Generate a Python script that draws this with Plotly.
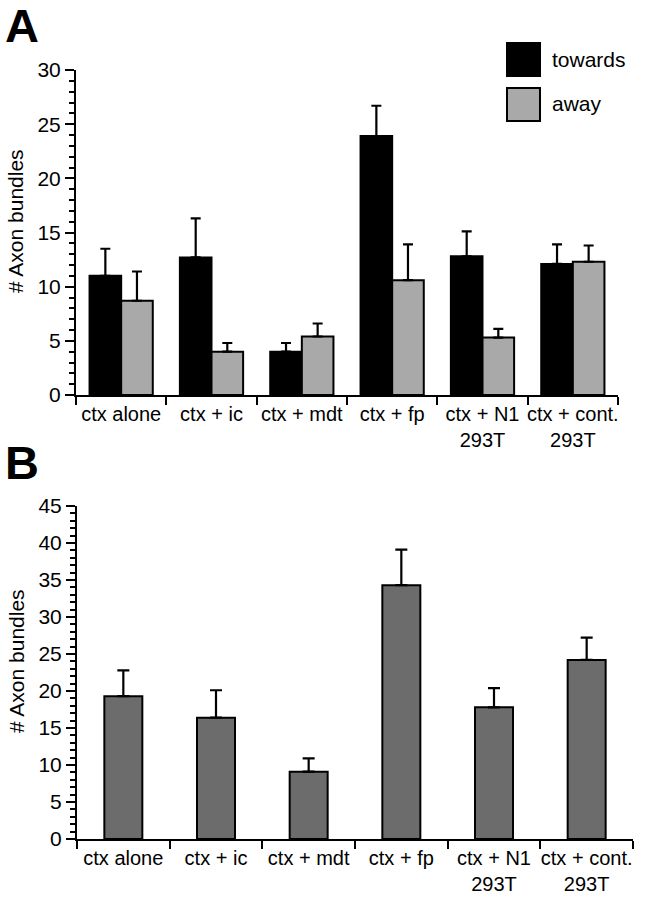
import plotly.graph_objects as go

categories = ["ctx alone", "ctx + ic", "ctx + mdt", "ctx + fp", "ctx + N1<br>293T", "ctx + cont.<br>293T"]

# Panel A
towards = [11.0, 12.7, 4.0, 23.9, 12.8, 12.1]
towards_err = [2.5, 3.6, 0.8, 2.8, 2.3, 1.8]
away = [8.7, 4.0, 5.4, 10.6, 5.3, 12.3]
away_err = [2.7, 0.8, 1.2, 3.3, 0.8, 1.5]

# Panel B
bundles = [19.3, 16.4, 9.1, 34.3, 17.8, 24.2]
bundles_err = [3.5, 3.7, 1.8, 4.8, 2.6, 3.0]

W, H = 645, 900
FONT = "Liberation Sans, Arial, Helvetica, sans-serif"
FS = 20

def px_x(p):
    return p / W

def px_y(p):
    return 1 - p / H

fig = go.Figure()

zeros = [0] * len(categories)

def err(arr, w=5):
    return dict(type="data", symmetric=False, array=arr, arrayminus=zeros,
                color="black", thickness=2.2, width=w)

fig.add_trace(go.Bar(x=categories, y=towards, name="towards", xaxis="x", yaxis="y",
                     marker=dict(color="black", line=dict(color="black", width=2)),
                     error_y=err(towards_err), showlegend=False))
fig.add_trace(go.Bar(x=categories, y=away, name="away", xaxis="x", yaxis="y",
                     marker=dict(color="#a9a9a9", line=dict(color="black", width=2)),
                     error_y=err(away_err), showlegend=False))
fig.add_trace(go.Bar(x=categories, y=bundles, name="bundles", xaxis="x2", yaxis="y2",
                     marker=dict(color="#6c6c6c", line=dict(color="black", width=2)),
                     error_y=err(bundles_err, 6), showlegend=False, width=0.41))

common_x = dict(type="category", tickson="boundaries", ticks="outside", ticklen=8,
                tickwidth=2, tickcolor="black", showline=True, linewidth=2, linecolor="black",
                showgrid=False, zeroline=False, range=[-0.5, 5.5], tickangle=0, automargin=False,
                tickfont=dict(family=FONT, size=FS, color="black"))
common_y = dict(ticks="outside", ticklen=9, tickwidth=2, tickcolor="black", automargin=False,
                showline=True, linewidth=2, linecolor="black", showgrid=False, zeroline=False,
                tickfont=dict(family=FONT, size=FS + 1, color="black"),
                minor=dict(dtick=1, ticks="outside", ticklen=5, tickwidth=1.5, tickcolor="black", showgrid=False))

fig.update_layout(
    width=W, height=H,
    margin=dict(l=0, r=0, t=0, b=0),
    paper_bgcolor="white", plot_bgcolor="white",
    barmode="group", bargap=0.3, bargroupgap=0,
    xaxis=dict(domain=[px_x(76), px_x(618)], anchor="y", **common_x),
    yaxis=dict(domain=[px_y(395), px_y(70)], anchor="x", range=[0, 30], dtick=5, **common_y),
    xaxis2=dict(domain=[px_x(77), px_x(633)], anchor="y2", **common_x),
    yaxis2=dict(domain=[px_y(839), px_y(506)], anchor="x2", range=[0, 45], dtick=5, **common_y),
    font=dict(family=FONT, color="black"),
)

# Y axis titles
for yc in (221, 661):
    fig.add_annotation(text="# Axon bundles", xref="paper", yref="paper", x=px_x(16), y=px_y(yc),
                       xanchor="center", yanchor="middle", textangle=-90, showarrow=False,
                       font=dict(family=FONT, size=FS + 1, color="black"))

# Legend (panel A) drawn as boxes + text
fig.add_shape(type="rect", xref="paper", yref="paper",
              x0=px_x(507), x1=px_x(540), y0=px_y(76), y1=px_y(43),
              fillcolor="black", line=dict(color="black", width=2))
fig.add_shape(type="rect", xref="paper", yref="paper",
              x0=px_x(507), x1=px_x(540), y0=px_y(121), y1=px_y(88),
              fillcolor="#a9a9a9", line=dict(color="black", width=2))
fig.add_annotation(text="towards", xref="paper", yref="paper", x=px_x(550), y=px_y(60),
                   xanchor="left", yanchor="middle", showarrow=False,
                   font=dict(family=FONT, size=FS + 1, color="black"))
fig.add_annotation(text="away", xref="paper", yref="paper", x=px_x(550), y=px_y(104),
                   xanchor="left", yanchor="middle", showarrow=False,
                   font=dict(family=FONT, size=FS + 1, color="black"))

# Panel labels
fig.add_annotation(text="<b>A</b>", xref="paper", yref="paper", x=px_x(3), y=px_y(25),
                   xanchor="left", yanchor="middle", showarrow=False,
                   font=dict(family=FONT, size=47, color="black"))
fig.add_annotation(text="<b>B</b>", xref="paper", yref="paper", x=px_x(3), y=px_y(462),
                   xanchor="left", yanchor="middle", showarrow=False,
                   font=dict(family=FONT, size=47, color="black"))

# remove the default 8px page margin so the figure sits at the window's top-left corner
fig.write_html("out.html", config={"displayModeBar": False},
               post_script="document.body.style.margin='0px';")
